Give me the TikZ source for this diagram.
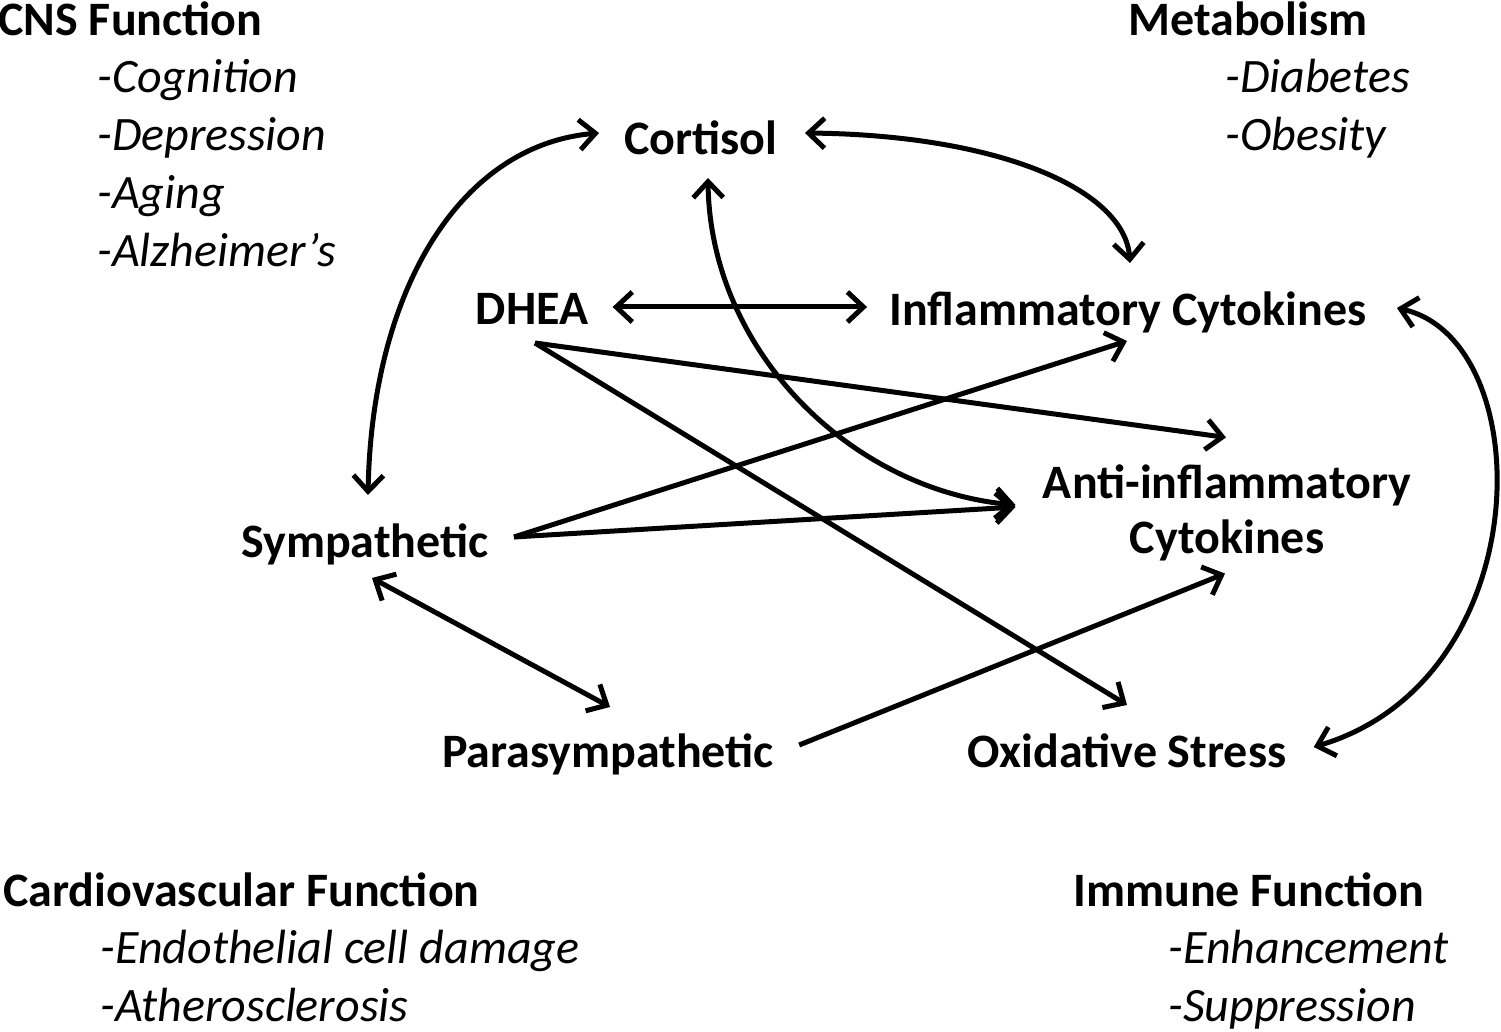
\documentclass[tikz,border=0pt]{standalone}
\usepackage{fontspec}
\setmainfont{Carlito}
\usetikzlibrary{calc,arrows.meta}

\begin{document}
\begin{tikzpicture}[x=0.5pt,y=-0.5pt,
    >={Straight Barb[length=8pt,width=15pt]},
    box/.style={font=\fontsize{24}{28}\selectfont\bfseries, inner sep=0pt, text height=16.8pt, text depth=4.8pt, anchor=base},
    twoline/.style={font=\fontsize{24}{27.5}\selectfont\bfseries, inner sep=0pt, align=center},
    hd/.style={font=\fontsize{24}{28}\selectfont\bfseries, inner sep=0pt, anchor=base west},
    lst/.style={font=\fontsize{24}{29}\selectfont\itshape, inner sep=0pt, align=left, anchor=base west},
    conn/.style={line width=2.5pt}]
  \useasboundingbox (0,0) rectangle (1501,1032);

  % the four corner notes (lists sit on their last line)
  \node[hd] (cns) at (-2,36) {CNS Function};
  \node[lst] (cnslist) at (97,267) {-Cognition\\-Depression\\-Aging\\-Alzheimer's};
  \node[hd] (metab) at (1128,36) {Metabolism};
  \node[lst] (metablist) at (1225,151) {-Diabetes\\-Obesity};
  \node[hd] (cardio) at (3,906) {Cardiovascular Function};
  \node[lst] (cardiolist) at (100,1021) {-Endothelial cell damage\\-Atherosclerosis};
  \node[hd] (immune) at (1073,906) {Immune Function};
  \node[lst] (immunelist) at (1168,1021) {-Enhancement\\-Suppression};

  % the players
  \node[box] (cortisol) at (701,155) {Cortisol};
  \node[box] (dhea) at (532,325) {DHEA};
  \node[box] (inflam) at (1128,326) {Inflammatory Cytokines};
  \node[twoline] (anti) at (1227,513) {Anti-inflammatory\\Cytokines};
  \node[box] (symp) at (365,558) {Sympathetic};
  \node[box] (para) at (608,767) {Parasympathetic};
  \node[box] (oxid) at (1127,767) {Oxidative Stress};

  % curved links
  \draw[conn,<->] ($(cortisol.west)+(-25,-10)$) .. controls (460,145) and (372,290) .. ($(symp.north)+(3,-29)$);
  \draw[conn,<->] ($(cortisol.east)+(27,-10)$) .. controls (1000,135) and (1125,190) .. ($(inflam.north)+(2,-29)$);
  \draw[conn,<->] ($(cortisol.south)+(7,13)$) .. controls (710,350) and (850,490) .. ($(anti.west)+(-27,-8)$);
  \draw[conn,<->] ($(inflam.east)+(30,-6)$) .. controls (1540,340) and (1540,680) .. ($(oxid.east)+(27,-8)$);

  % straight links
  \draw[conn,<->] ($(dhea.east)+(24,-6)$) -- ($(inflam.west)+(-22,-7)$);
  \draw[conn,->] ($(dhea.south)+(3,8)$) -- ($(anti.north)+(-1,-27)$);
  \draw[conn,->] ($(dhea.south)+(3,8)$) -- ($(oxid.north)+(0,-28)$);
  \draw[conn,->] ($(symp.east)+(25,-9)$) -- ($(inflam.south)+(-1,5)$);
  \draw[conn,->] ($(symp.east)+(25,-9)$) -- ($(anti.west)+(-27,-6)$);
  \draw[conn,<->] ($(symp.south)+(7,10)$) -- ($(para.north)+(2,-26)$);
  \draw[conn,->] ($(para.east)+(25,-10)$) -- ($(anti.south)+(-2,12)$);
\end{tikzpicture}
\end{document}
